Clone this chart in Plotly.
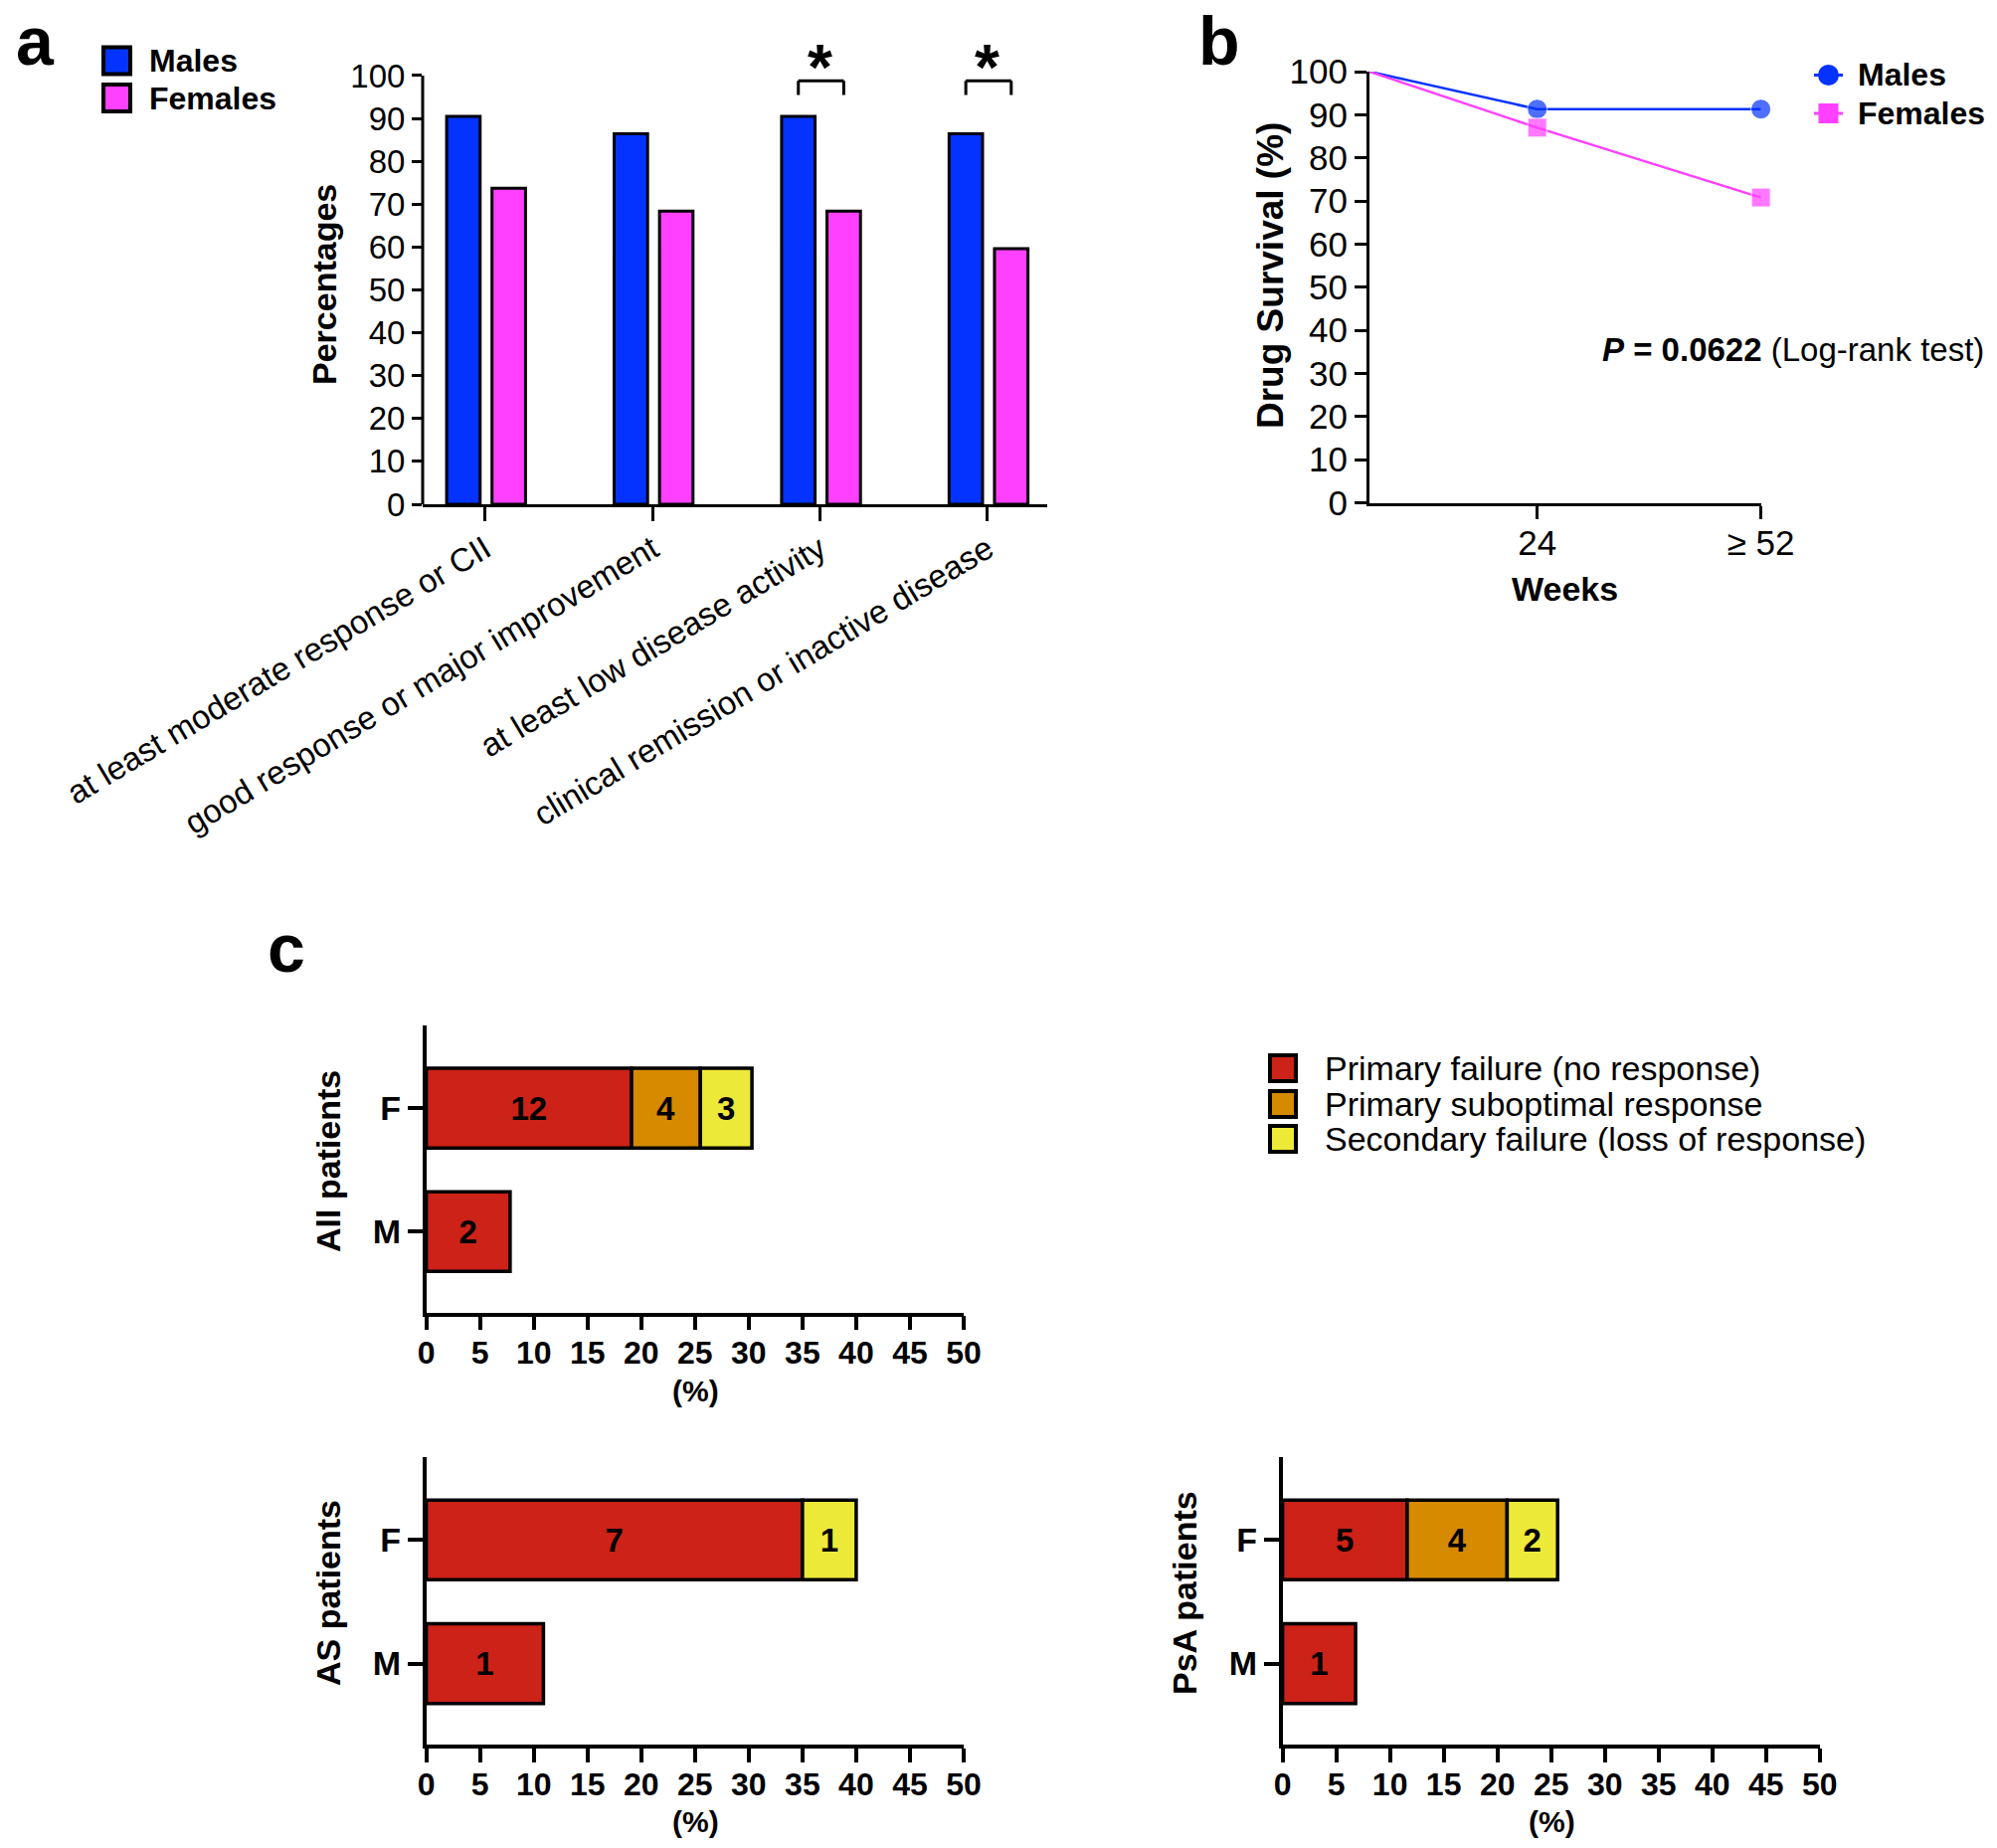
import plotly.graph_objects as go

W, H = 2008, 1858

# ---------------- data ----------------
# Panel a
outcomes = [
    "at least moderate response or CII",
    "good response or major improvement",
    "at least low disease activity",
    "clinical remission or inactive disease",
]
males_pct = [90.5, 86.4, 90.5, 86.4]
females_pct = [73.7, 68.4, 68.4, 59.6]
significant = [False, False, True, True]

# Panel b
weeks = [0, 24, 56]
week_tickvals = [24, 56]
week_ticktext = ["24", "≥ 52"]
males_survival = [100, 91.3, 91.3]
females_survival = [100, 87.0, 70.8]
p_value = "0.0622"

# Panel c
sex_labels = ["M", "F"]
failure_types = [
    "Primary failure (no response)",
    "Primary suboptimal response",
    "Secondary failure (loss of response)",
]
all_primary_pct = [7.8, 19.1]
all_suboptimal_pct = [None, 6.4]
all_secondary_pct = [None, 4.8]
all_primary_n = [2, 12]
all_suboptimal_n = [None, 4]
all_secondary_n = [None, 3]

as_primary_pct = [10.9, 35.0]
as_suboptimal_pct = [None, None]
as_secondary_pct = [None, 5.0]
as_primary_n = [1, 7]
as_suboptimal_n = [None, None]
as_secondary_n = [None, 1]

psa_primary_pct = [6.8, 11.6]
psa_suboptimal_pct = [None, 9.3]
psa_secondary_pct = [None, 4.7]
psa_primary_n = [1, 5]
psa_suboptimal_n = [None, 4]
psa_secondary_n = [None, 2]

# ---------------- style ----------------
BLUE = "#0433FF"
MAGENTA = "#FF40FF"
FAIL_COLORS = ["#CC2218", "#D68A00", "#EDE938"]
FONT = "Liberation Sans, Arial, Helvetica, sans-serif"
SIG_Y = 98.8  # height of the significance brackets


def px(x):
    return x / W


def py(y):
    return 1 - y / H


fig = go.Figure()

# ---------------- panel a ----------------
BAR_W = 0.2
M_OFF = -0.229
F_OFF = 0.042
fig.add_trace(go.Bar(
    x=outcomes, y=males_pct, width=BAR_W, offset=M_OFF, name="Males",
    marker=dict(color=BLUE, line=dict(color="black", width=3)),
    xaxis="x", yaxis="y", showlegend=False, hoverinfo="skip"))
fig.add_trace(go.Bar(
    x=outcomes, y=females_pct, width=BAR_W, offset=F_OFF, name="Females",
    marker=dict(color=MAGENTA, line=dict(color="black", width=3)),
    xaxis="x", yaxis="y", showlegend=False, hoverinfo="skip"))

shapes = []
annotations = []

# y-axis line of panel a (0..100 only)
shapes.append(dict(type="line", xref="x domain", yref="y", x0=0, x1=0, y0=0, y1=100,
                   line=dict(color="black", width=3)))

for i, sig in enumerate(significant):
    if not sig:
        continue
    xm = i + M_OFF + BAR_W / 2
    xf = i + F_OFF + BAR_W / 2
    for (x0, y0, x1, y1) in [(xm, SIG_Y - 3.3, xm, SIG_Y), (xm, SIG_Y, xf, SIG_Y),
                             (xf, SIG_Y, xf, SIG_Y - 3.3)]:
        shapes.append(dict(type="line", xref="x", yref="y", x0=x0, x1=x1, y0=y0, y1=y1,
                           line=dict(color="black", width=3)))
    annotations.append(dict(x=i, y=SIG_Y + 3.1, xref="x", yref="y", text="<b>*</b>", showarrow=False,
                            font=dict(size=64, color="black", family=FONT), xanchor="center", yanchor="middle"))

# ---------------- panel b ----------------
fig.add_trace(go.Scatter(
    x=weeks, y=males_survival, mode="lines+markers", name="Males",
    line=dict(color=BLUE, width=2.5),
    marker=dict(symbol="circle", size=[0, 20, 20], color=BLUE),
    xaxis="x2", yaxis="y2", showlegend=False, cliponaxis=False, hoverinfo="skip"))
fig.add_trace(go.Scatter(
    x=weeks, y=females_survival, mode="lines+markers", name="Females",
    line=dict(color=MAGENTA, width=2.5),
    marker=dict(symbol="square", size=[0, 19, 19], color=MAGENTA),
    xaxis="x2", yaxis="y2", showlegend=False, cliponaxis=False, hoverinfo="skip"))

# ---------------- panel c ----------------
BAR_H = 0.645


def add_stack(xa, ya, pcts, counts):
    base = [0.0 for _ in sex_labels]
    for k, (vals, ns) in enumerate(zip(pcts, counts)):
        fig.add_trace(go.Bar(
            y=sex_labels, x=vals, base=list(base), orientation="h", width=BAR_H,
            name=failure_types[k],
            marker=dict(color=FAIL_COLORS[k], line=dict(color="black", width=3.5)),
            text=[str(n) if n else "" for n in ns], textposition="inside",
            insidetextanchor="middle", textangle=0, constraintext="none",
            insidetextfont=dict(size=33, color="black", family=FONT, weight="bold"),
            xaxis=xa, yaxis=ya, showlegend=False, hoverinfo="skip"))
        base = [b + (v or 0) for b, v in zip(base, vals)]


add_stack("x3", "y3", [all_primary_pct, all_suboptimal_pct, all_secondary_pct],
          [all_primary_n, all_suboptimal_n, all_secondary_n])
add_stack("x4", "y4", [as_primary_pct, as_suboptimal_pct, as_secondary_pct],
          [as_primary_n, as_suboptimal_n, as_secondary_n])
add_stack("x5", "y5", [psa_primary_pct, psa_suboptimal_pct, psa_secondary_pct],
          [psa_primary_n, psa_suboptimal_n, psa_secondary_n])

# ---------------- axes ----------------
common = dict(showgrid=False, zeroline=False, linecolor="black", tickcolor="black", ticks="outside",
              automargin=False)

layout_axes = dict(
    xaxis=dict(domain=[px(425), px(1053)], anchor="y", type="category", categoryorder="array",
               categoryarray=outcomes, range=[-0.372, 3.357], showline=True, linewidth=3,
               ticklen=14, tickwidth=3, tickangle=-31, ticklabelstandoff=-4,
               tickfont=dict(size=33, color="black", family=FONT), **common),
    yaxis=dict(domain=[py(507), py(41.5)], anchor="x", range=[0, 108],
               tickvals=list(range(0, 101, 10)), showline=False, ticklen=10, tickwidth=3,
               tickfont=dict(size=33, color="black", family=FONT), **common),
    xaxis2=dict(domain=[px(1377), px(1770.6)], anchor="y2", range=[0, 56],
                tickvals=week_tickvals, ticktext=week_ticktext, showline=True, linewidth=3,
                ticklen=13, tickwidth=3, ticklabelstandoff=-6,
                tickfont=dict(size=35, color="black", family=FONT), **common),
    yaxis2=dict(domain=[py(505.5), py(72)], anchor="x2", range=[0, 100], dtick=10,
                showline=True, linewidth=3, ticklen=12, tickwidth=3,
                tickfont=dict(size=35, color="black", family=FONT), **common),
)

c_x = dict(range=[0, 50], dtick=5, showline=True, linewidth=3.5, ticklen=14, tickwidth=3.5,
           ticklabelstandoff=-5,
           tickfont=dict(size=32, color="black", family=FONT, weight="bold"), **common)
c_y = dict(type="category", categoryorder="array", categoryarray=sex_labels, range=[-0.655, 1.67],
           showline=True, linewidth=3.5, ticklen=15, tickwidth=3.5,
           tickfont=dict(size=34, color="black", family=FONT, weight="bold"), **common)

layout_axes["xaxis3"] = dict(domain=[px(428.6), px(969)], anchor="y3", **c_x)
layout_axes["yaxis3"] = dict(domain=[py(1319.5), py(1031)], anchor="x3", **c_y)
layout_axes["xaxis4"] = dict(domain=[px(428.6), px(969)], anchor="y4", **c_x)
layout_axes["yaxis4"] = dict(domain=[py(1754), py(1465)], anchor="x4", **c_y)
layout_axes["xaxis5"] = dict(domain=[px(1289.6), px(1829.8)], anchor="y5", **c_x)
layout_axes["yaxis5"] = dict(domain=[py(1754), py(1465)], anchor="x5", **c_y)


def text(x, y, s, size, bold=False, angle=0, xanchor="center", yanchor="middle", italic=False):
    annotations.append(dict(
        x=px(x), y=py(y), xref="paper", yref="paper", text=s, showarrow=False, textangle=angle,
        xanchor=xanchor, yanchor=yanchor,
        font=dict(size=size, color="black", family=FONT, weight="bold" if bold else "normal",
                  style="italic" if italic else "normal")))


# panel letters
text(35, 41, "a", 68, bold=True)
text(1226, 41, "b", 68, bold=True)
text(287.5, 953, "c", 68, bold=True)

# axis titles
text(326, 286, "Percentages", 34, bold=True, angle=-90)
text(1277, 277, "Drug Survival (%)", 37, bold=True, angle=-90)
text(1573, 592, "Weeks", 34, bold=True)
text(1997, 352, "<b><i>P</i> = " + p_value + "</b> (Log-rank test)", 33, xanchor="right")

text(330, 1168, "All patients", 34, bold=True, angle=-90)
text(330, 1602, "AS patients", 34, bold=True, angle=-90)
text(1191, 1602, "PsA patients", 34, bold=True, angle=-90)
text(699, 1398, "(%)", 30, bold=True)
text(699, 1831, "(%)", 30, bold=True)
text(1560, 1831, "(%)", 30, bold=True)

# legend a
for yc, col, lab in [(61, BLUE, "Males"), (98.5, MAGENTA, "Females")]:
    shapes.append(dict(type="rect", xref="paper", yref="paper", x0=px(104), x1=px(131),
                       y0=py(yc + 13.5), y1=py(yc - 13.5), fillcolor=col,
                       line=dict(color="black", width=4)))
    text(148, yc, lab, 32, bold=True, xanchor="left")

# legend b
for yc, col, sym, lab in [(75.5, BLUE, "circle", "Males"), (114, MAGENTA, "square", "Females")]:
    shapes.append(dict(type="line", xref="paper", yref="paper", x0=px(1824), x1=px(1853),
                       y0=py(yc), y1=py(yc), line=dict(color=col, width=3)))
    if sym == "circle":
        shapes.append(dict(type="circle", xref="paper", yref="paper", x0=px(1828), x1=px(1849),
                           y0=py(yc + 10.5), y1=py(yc - 10.5), fillcolor=col, line=dict(width=0)))
    else:
        shapes.append(dict(type="rect", xref="paper", yref="paper", x0=px(1828.5), x1=px(1848.5),
                           y0=py(yc + 10), y1=py(yc - 10), fillcolor=col, line=dict(width=0)))
    text(1866, yc, lab, 32, bold=True, xanchor="left")

# legend c
for k, (yc, lab) in enumerate(zip([1074, 1110, 1145], failure_types)):
    shapes.append(dict(type="rect", xref="paper", yref="paper", x0=px(1277), x1=px(1303),
                       y0=py(yc + 13), y1=py(yc - 13), fillcolor=FAIL_COLORS[k],
                       line=dict(color="black", width=4)))
    text(1330, yc, lab, 34, xanchor="left")

fig.update_layout(
    template="none",
    width=W, height=H, margin=dict(l=0, r=0, t=0, b=0, pad=0, autoexpand=False),
    paper_bgcolor="white", plot_bgcolor="white",
    barmode="overlay", showlegend=False,
    font=dict(family=FONT, color="black"),
    shapes=shapes, annotations=annotations,
    **layout_axes,
)

fig.write_html("out.html", config={"displayModeBar": False},
               post_script="document.body.style.margin='0';document.body.style.overflow='hidden';")
